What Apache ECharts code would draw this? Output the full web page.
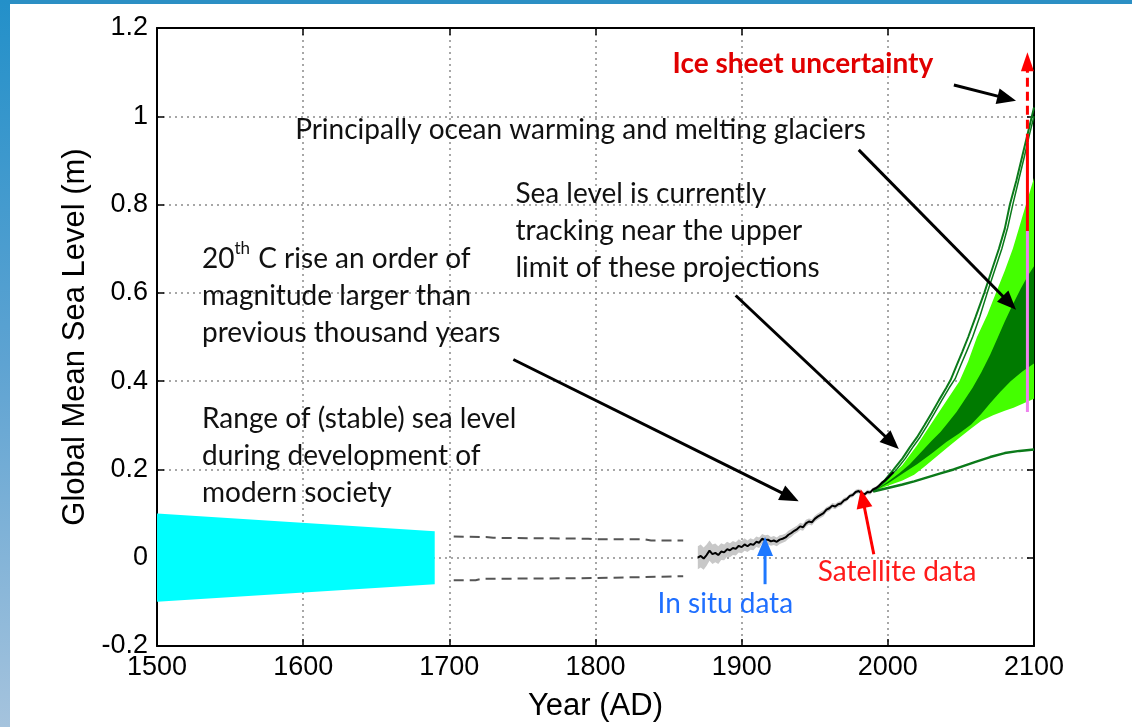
<!DOCTYPE html>
<html>
<head>
<meta charset="utf-8">
<title>Global Mean Sea Level</title>
<script src="https://cdn.jsdelivr.net/npm/echarts@6/dist/echarts.min.js"></script>
<style>
  html, body { margin: 0; padding: 0; background: #fff; }
  #chart { width: 1132px; height: 727px; }
</style>
</head>
<body>
<div id="chart"></div>
<script>
// ---- axis ticks ----
const xTicks = [1500, 1600, 1700, 1800, 1900, 2000, 2100];
const yTicks = [-0.2, 0, 0.2, 0.4, 0.6, 0.8, 1.0, 1.2];

// ---- range of (stable) sea level, 1500-1690 ----
const stableTop = [[1500, 0.1], [1690, 0.06]];
const stableBottom = [[1500, -0.1], [1690, -0.06]];

// ---- dashed envelope, 1700-1860 ----
const envelopeUpper = [[1703, 0.048], [1725, 0.047], [1730, 0.045], [1795, 0.043], [1800, 0.042], [1833, 0.042], [1838, 0.039], [1860, 0.039]];
const envelopeLower = [[1703, -0.051], [1718, -0.051], [1722, -0.048], [1800, -0.046], [1860, -0.042]];

// ---- tide gauge + satellite record (m) ----
const gaugeYears = [1870, 1872, 1874, 1876, 1878, 1880, 1882, 1884, 1886, 1888, 1890, 1892, 1894, 1896, 1898,
  1900, 1902, 1904, 1906, 1908, 1910, 1912, 1914, 1916, 1918, 1920, 1922, 1924, 1926, 1928,
  1930, 1932, 1934, 1936, 1938, 1940, 1942, 1944, 1946, 1948, 1950, 1952, 1954, 1956, 1958,
  1960, 1962, 1964, 1966, 1968, 1970, 1972, 1974, 1976, 1978, 1980, 1982, 1984, 1986, 1988,
  1990, 1992, 1994, 1996, 1998, 2000, 2002, 2004];
const gaugeLevel = [0.000, 0.004, -0.002, 0.006, 0.016, 0.008, 0.011, 0.006, 0.014, 0.012, 0.019, 0.017, 0.022, 0.020, 0.027,
  0.024, 0.030, 0.026, 0.031, 0.029, 0.036, 0.034, 0.043, 0.040, 0.041, 0.037, 0.039, 0.036, 0.041, 0.043,
  0.046, 0.052, 0.056, 0.061, 0.065, 0.071, 0.069, 0.078, 0.082, 0.080, 0.088, 0.093, 0.097, 0.101, 0.109,
  0.112, 0.118, 0.116, 0.121, 0.123, 0.130, 0.133, 0.140, 0.142, 0.149, 0.151, 0.147, 0.143, 0.149, 0.148,
  0.155, 0.158, 0.163, 0.170, 0.175, 0.181, 0.188, 0.194];
const gaugeErr = [0.026, 0.026, 0.025, 0.024, 0.023, 0.022, 0.021, 0.020, 0.019, 0.018, 0.017, 0.016, 0.016, 0.015, 0.015,
  0.014, 0.014, 0.013, 0.013, 0.012, 0.012, 0.012, 0.011, 0.011, 0.011, 0.010, 0.010, 0.010, 0.010, 0.009,
  0.009, 0.009, 0.009, 0.008, 0.008, 0.008, 0.008, 0.008, 0.007, 0.007, 0.007, 0.007, 0.007, 0.007, 0.006,
  0.006, 0.006, 0.006, 0.006, 0.006, 0.006, 0.005, 0.005, 0.005, 0.005, 0.005, 0.005, 0.005, 0.005, 0.005,
  0.004, 0.004, 0.004, 0.004, 0.004, 0.004, 0.004, 0.004];

// ---- projections to 2100 (m) ----
const projOuterUpper = [[1990, 0.15], [1997, 0.172], [2004, 0.2], [2010, 0.225], [2015, 0.25], [2020, 0.273], [2025, 0.3],
  [2030, 0.328], [2035, 0.357], [2040, 0.385], [2043, 0.403], [2047, 0.435], [2051, 0.467], [2055, 0.5], [2060, 0.545],
  [2066, 0.6], [2071, 0.65], [2076, 0.7], [2080, 0.745], [2083.5, 0.8], [2088, 0.855], [2092, 0.91], [2096, 0.965], [2100, 1.02]];
const projInnerUpper = [[1990, 0.15], [1998, 0.172], [2006, 0.2], [2012, 0.225], [2017, 0.25], [2022, 0.273], [2027, 0.3],
  [2032, 0.328], [2037, 0.357], [2042, 0.385], [2046, 0.405], [2050, 0.437], [2054, 0.468], [2058, 0.5], [2063, 0.547],
  [2068, 0.6], [2073, 0.65], [2078, 0.7], [2082, 0.748], [2085.5, 0.8], [2089.5, 0.855], [2093.5, 0.91], [2097, 0.96], [2100, 1.0]];
const projLightUpper = [[1990, 0.15], [2000, 0.178], [2010, 0.21], [2020, 0.255], [2029, 0.3], [2039, 0.35], [2049, 0.4],
  [2055, 0.445], [2061, 0.5], [2068, 0.55], [2074, 0.6], [2080, 0.65], [2085.5, 0.7], [2090, 0.75], [2094.5, 0.8], [2100, 0.86]];
const projDarkUpper = [[1990, 0.15], [2000, 0.172], [2008, 0.192], [2015, 0.212], [2023, 0.24], [2030, 0.265], [2036, 0.285],
  [2041, 0.305], [2047, 0.33], [2052, 0.355], [2058, 0.385], [2064, 0.42], [2070, 0.46], [2075, 0.497], [2080, 0.535],
  [2085, 0.57], [2091, 0.61], [2096, 0.64], [2100, 0.66]];
const projDarkLower = [[1990, 0.15], [2000, 0.168], [2010, 0.19], [2020, 0.212], [2030, 0.236], [2040, 0.262], [2049, 0.282],
  [2057, 0.302], [2064, 0.326], [2070, 0.35], [2077, 0.376], [2084, 0.4], [2092, 0.422], [2100, 0.44]];
const projLightLower = [[1990, 0.15], [2000, 0.163], [2010, 0.175], [2018, 0.188], [2025, 0.206], [2033, 0.228], [2041, 0.25],
  [2049, 0.272], [2057, 0.293], [2064, 0.31], [2072, 0.323], [2080, 0.333], [2086, 0.34], [2093, 0.35], [2100, 0.36]];
const projOuterLower = [[1990, 0.15], [2000, 0.158], [2010, 0.166], [2018, 0.173], [2027, 0.182], [2036, 0.191], [2045, 0.2],
  [2052, 0.208], [2060, 0.217], [2070, 0.228], [2080, 0.237], [2090, 0.242], [2100, 0.245]];

// ---- ice sheet uncertainty bar at 2095.5 ----
const barYear = 2095.5;
const barLikely = [0.33, 0.74];
const barExtended = [0.74, 0.94];
const barUpperArrow = [0.94, 1.145];

// ---- annotation arrows: [x tail, y tail, x head, y head] ----
const blackArrows = [
  [2045.2, 1.071, 2087.7, 1.035],
  [1980.1, 0.924, 2087.7, 0.562],
  [1895.9, 0.594, 2007.5, 0.246],
  [1743.8, 0.449, 1939.0, 0.128]
];
const blueArrows = [[1916.0, -0.060, 1916.0, 0.047]];
const redArrows = [[1990.4, 0.008, 1981.5, 0.155]];

const chart = echarts.init(document.getElementById('chart'));

function polygon(upper, lower, color, z) {
  return {
    type: 'custom', silent: true, clip: true, z: z,
    data: [[upper[0][0], upper[0][1]]],
    renderItem: function (params, api) {
      const pts = upper.map(p => api.coord(p)).concat(lower.slice().reverse().map(p => api.coord(p)));
      return { type: 'polygon', shape: { points: pts }, style: { fill: color } };
    }
  };
}

function polyline(points, color, width, dash, z) {
  return {
    type: 'line', data: points, showSymbol: false, silent: true, z: z,
    lineStyle: { color: color, width: width, type: dash || 'solid' }
  };
}

function arrows(list, color, width, headLen, headWidth, dash, z) {
  return {
    type: 'custom', silent: true, z: z, clip: false,
    data: list,
    encode: { x: [0, 2], y: [1, 3] },
    renderItem: function (params, api) {
      const a = api.coord([api.value(0), api.value(1)]);
      const b = api.coord([api.value(2), api.value(3)]);
      const dx = b[0] - a[0], dy = b[1] - a[1];
      const len = Math.hypot(dx, dy), ux = dx / len, uy = dy / len;
      const bx = b[0] - ux * headLen, by = b[1] - uy * headLen;
      const hw = headWidth / 2;
      return {
        type: 'group',
        children: [
          { type: 'line', shape: { x1: a[0], y1: a[1], x2: bx + ux * 2, y2: by + uy * 2 },
            style: { stroke: color, lineWidth: width, lineDash: dash || null } },
          { type: 'polygon', shape: { points: [[b[0], b[1]], [bx - uy * hw, by + ux * hw], [bx + uy * hw, by - ux * hw]] },
            style: { fill: color } }
        ]
      };
    }
  };
}

const noteFont = 'Lato, "Open Sans", sans-serif';
function note(x, y, text, color, weight, rich) {
  return {
    type: 'custom', silent: true, clip: false, z: 20,
    data: [[x, y]],
    renderItem: function (params, api) {
      const p = api.coord([x, y]);
      return {
        type: 'text', x: p[0], y: p[1],
        style: {
          text: text, fill: color, fontSize: 28, fontFamily: noteFont, fontWeight: weight || 'normal',
          lineHeight: 37, align: 'left', verticalAlign: 'top', rich: rich || {}
        }
      };
    }
  };
}

const axisFont = '"Liberation Sans", Arial, Helvetica, sans-serif';
const gridLine = { show: true, lineStyle: { color: '#8a8a8a', type: [2, 4], width: 1.5 } };
const boxLine = { show: true, onZero: false, lineStyle: { color: '#000', width: 2 } };
const inTick = { show: true, inside: true, length: 7, lineStyle: { color: '#000', width: 1.5 } };

const gauge = gaugeYears.map((y, i) => [y, gaugeLevel[i]]);
const gaugeHi = gaugeYears.map((y, i) => [y, gaugeLevel[i] + gaugeErr[i]]);
const gaugeLo = gaugeYears.map((y, i) => [y, gaugeLevel[i] - gaugeErr[i]]);

const option = {
  animation: false,
  backgroundColor: '#ffffff',
  grid: { left: 157, right: 98, top: 28, bottom: 80, containLabel: false },
  graphic: [
    { type: 'rect', left: 0, top: 0, shape: { width: 1132, height: 4 }, style: { fill: '#2b8fc4' }, z: 100 },
    { type: 'rect', left: 0, top: 0, shape: { width: 10, height: 727 },
      style: { fill: new echarts.graphic.LinearGradient(0, 0, 0, 1, [
        { offset: 0, color: '#2390c9' }, { offset: 0.5, color: '#5ea3d2' }, { offset: 1, color: '#a5c3dd' }]) }, z: 100 }
  ],
  xAxis: [
    {
      type: 'value', position: 'bottom', min: xTicks[0], max: xTicks[xTicks.length - 1], interval: 100,
      axisLine: boxLine, axisTick: inTick, splitLine: gridLine,
      axisLabel: { color: '#000', fontSize: 27, fontFamily: axisFont, margin: 8, formatter: v => String(v) },
      name: 'Year (AD)', nameLocation: 'middle', nameGap: 45,
      nameTextStyle: { color: '#000', fontSize: 31, fontFamily: axisFont }
    },
    {
      type: 'value', position: 'top', min: xTicks[0], max: xTicks[xTicks.length - 1], interval: 100,
      axisLine: boxLine, axisTick: inTick, splitLine: { show: false }, axisLabel: { show: false }
    }
  ],
  yAxis: [
    {
      type: 'value', position: 'left', min: yTicks[0], max: yTicks[yTicks.length - 1], interval: 0.2,
      axisLine: boxLine, axisTick: inTick, splitLine: gridLine,
      axisLabel: { color: '#000', fontSize: 27, fontFamily: axisFont, margin: 9,
        formatter: v => String(Math.round(v * 10) / 10) },
      name: 'Global Mean Sea Level (m)', nameLocation: 'middle', nameGap: 66, nameRotate: 90,
      nameTextStyle: { color: '#000', fontSize: 31, fontFamily: axisFont }
    },
    {
      type: 'value', position: 'right', min: yTicks[0], max: yTicks[yTicks.length - 1], interval: 0.2,
      axisLine: boxLine, axisTick: inTick, splitLine: { show: false }, axisLabel: { show: false }
    }
  ],
  series: [
    polygon(stableTop, stableBottom, '#00ffff', 2),
    polyline(envelopeUpper, '#555555', 2, [10, 6], 3),
    polyline(envelopeLower, '#555555', 2, [10, 6], 3),
    polygon(gaugeHi, gaugeLo, '#c8c8c8', 4),
    polygon(projLightUpper, projLightLower, '#44ff00', 5),
    polygon(projDarkUpper, projDarkLower, '#007a00', 6),
    polyline(projOuterUpper, '#0b7a1a', 2, null, 7),
    polyline(projInnerUpper, '#0b7a1a', 1.5, null, 7),
    polyline(projOuterLower, '#0b7a1a', 2.5, null, 7),
    polyline(gauge, '#000000', 2, null, 8),
    polyline([[barYear, barLikely[0]], [barYear, barLikely[1]]], '#ee82ee', 3, null, 9),
    polyline([[barYear, barExtended[0]], [barYear, barExtended[1]]], '#ff0000', 3, null, 9),
    arrows([[barYear, barUpperArrow[0], barYear, barUpperArrow[1]]], '#ff0000', 3, 19, 13, [9, 5], 9),
    arrows(blackArrows, '#000000', 3, 19, 16, null, 15),
    arrows(blueArrows, '#1e78ff', 3, 19, 16, null, 15),
    arrows(redArrows, '#ff0000', 3, 19, 16, null, 15),
    note(1852.7, 1.161, 'Ice sheet uncertainty', '#e00000', 'bold'),
    note(1594.5, 1.0115, 'Principally ocean warming and melting glaciers', '#111'),
    note(1745.2, 0.8667, 'Sea level is currently\ntracking near the upper\nlimit of these projections', '#111'),
    note(1530.8, 0.7197, '20{sup|th} C rise an order of\nmagnitude larger than\nprevious thousand years', '#111', 'normal',
      { sup: { fontSize: 17, fontFamily: noteFont, fill: '#111', verticalAlign: 'top', padding: [0, 1, 14, 0] } }),
    note(1530.8, 0.3554, 'Range of (stable) sea level\nduring development of\nmodern society', '#111'),
    note(1842.5, -0.063, 'In situ data', '#1f6fff'),
    note(1952.1, 0.0093, 'Satellite data', '#ff1a1a')
  ]
};
chart.setOption(option);
</script>
</body>
</html>
